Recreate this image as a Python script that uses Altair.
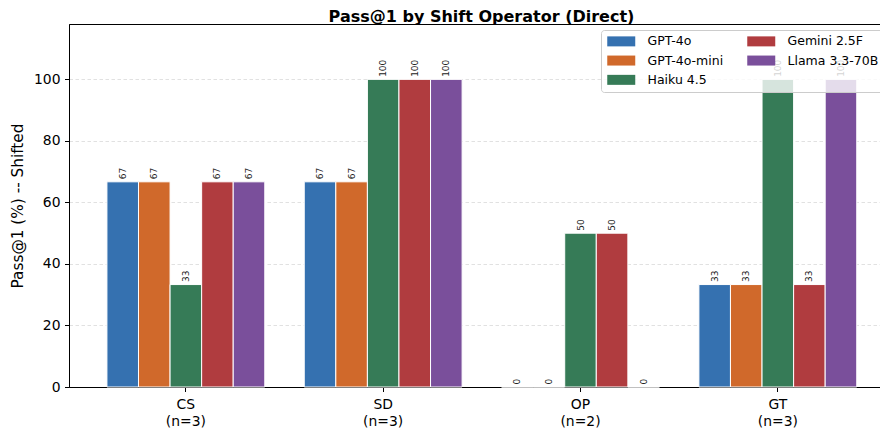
import altair as alt
import pandas as pd

# ---- data ----
title_text = "Pass@1 by Shift Operator (Direct)"
categories = ["CS", "SD", "OP", "GT"]
counts = [3, 3, 2, 3]
models = ["GPT-4o", "GPT-4o-mini", "Haiku 4.5", "Gemini 2.5F", "Llama 3.3-70B"]
model_colors = ["#3571b0", "#d0692b", "#367b57", "#b03c3f", "#7a4f9b"]

gpt4o = [66.7, 66.7, 0.0, 33.3]
gpt4o_mini = [66.7, 66.7, 0.0, 33.3]
haiku = [33.3, 100.0, 50.0, 100.0]
gemini = [66.7, 100.0, 50.0, 33.3]
llama = [66.7, 100.0, 0.0, 100.0]

series = [gpt4o, gpt4o_mini, haiku, gemini, llama]
cat_labels = [f"{c}\n(n={n})" for c, n in zip(categories, counts)]

rows = []
for m, vals in zip(models, series):
    for lab, v in zip(cat_labels, vals):
        rows.append({"cat": lab, "model": m, "value": v})
df = pd.DataFrame(rows)

x_enc = alt.X(
    "cat:N",
    sort=cat_labels,
    scale=alt.Scale(paddingInner=0.2, paddingOuter=0.155, align=0.62),
    axis=alt.Axis(
        title=None,
        labelAngle=0,
        labelExpr="split(datum.value, '\\n')",
        labelLineHeight=16.6,
        labelFontSize=13.9,
        labelPadding=6.0,
        tickSize=4.5,
        tickColor="black",
        domainColor="black",
        labelColor="black",
        grid=False,
    ),
)
xoff_enc = alt.XOffset("model:N", sort=models, scale=alt.Scale(paddingInner=0, paddingOuter=0))
y_enc = alt.Y(
    "value:Q",
    scale=alt.Scale(domain=[0, 118], nice=False, zero=True),
    axis=alt.Axis(
        title="Pass@1 (%) -- Shifted",
        values=[0, 20, 40, 60, 80, 100],
        grid=True,
        gridColor="#d9d9d9",
        gridDash=[3.5, 2.5],
        gridWidth=0.8,
        tickSize=4.5,
        tickColor="black",
        domainColor="black",
        labelColor="black",
        labelFontSize=13.9,
        labelPadding=4.5,
        titleFontSize=15.3,
        titleFontWeight="normal",
        titleColor="black",
        titlePadding=8,
    ),
)

bars = alt.Chart(df).mark_bar(stroke="white", strokeWidth=1).encode(
    x=x_enc,
    xOffset=xoff_enc,
    y=y_enc,
    color=alt.Color(
        "model:N",
        sort=models,
        scale=alt.Scale(domain=models, range=model_colors),
        legend=alt.Legend(
            title=None,
            orient="none",
            legendX=532,
            legendY=6,
            columns=2,
            columnPadding=22,
            rowPadding=6.3,
            padding=5,
            symbolType="M-1,-1H4.6V1H-1Z",
            symbolSize=100,
            symbolStrokeWidth=0,
            symbolOpacity=1,
            labelOffset=29,
            labelFontSize=12.5,
            labelColor="black",
            fillColor="rgba(255,255,255,0.8)",
            strokeColor="#cccccc",
            cornerRadius=3,
        ),
    ),
)

labels = alt.Chart(df).mark_text(
    angle=270, align="left", baseline="middle", dx=2.5, fontSize=9, color="#222222"
).encode(
    x=alt.X("cat:N", sort=cat_labels),
    xOffset=alt.XOffset("model:N", sort=models),
    y=alt.Y("value:Q"),
    text=alt.Text("value:Q", format=".0f"),
)

title_layer = alt.Chart(pd.DataFrame({"t": [title_text]})).mark_text(
    fontSize=16, fontWeight="bold", align="center", baseline="alphabetic", color="black"
).encode(
    text="t:N",
    x=alt.value(412.5),
    y=alt.value(-2.5),
)

chart = (
    alt.layer(bars, labels, title_layer)
    .properties(
        width=811,
        height=363,
        autosize=alt.AutoSizeParams(type="none"),
        padding={"left": 61, "top": 16, "right": 0, "bottom": 45},
    )
    .configure(font="DejaVu Sans")
    .configure_view(stroke="black", strokeWidth=1)
)

chart.save("out.html", embed_options={"renderer": "svg", "actions": False})
